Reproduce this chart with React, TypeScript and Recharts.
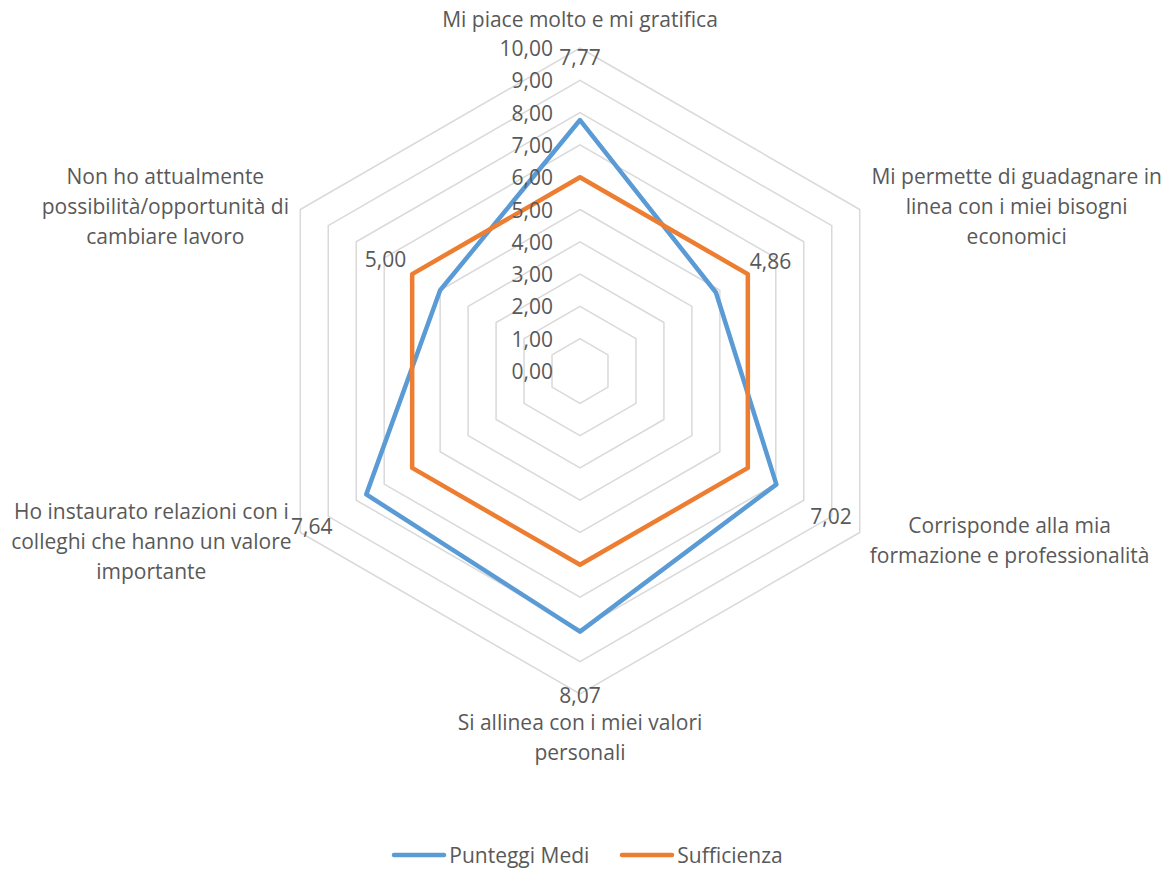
import React from 'react';
import { RadarChart, Radar, PolarGrid, PolarAngleAxis, PolarRadiusAxis, Legend, LabelList } from 'recharts';

const categories = [
  'Mi piace molto e mi gratifica',
  'Mi permette di guadagnare in\nlinea con i miei bisogni\neconomici',
  'Corrisponde alla mia\nformazione e professionalità',
  'Si allinea con i miei valori\npersonali',
  'Ho instaurato relazioni con i\ncolleghi che hanno un valore\nimportante',
  'Non ho attualmente\npossibilità/opportunità di\ncambiare lavoro',
];
const punteggiMedi = [7.77, 4.86, 7.02, 8.07, 7.64, 5.0];
const sufficienza = [6, 6, 6, 6, 6, 6];
const radiusTicks = [0, 1, 2, 3, 4, 5, 6, 7, 8, 9, 10];

const data = categories.map((name, i) => ({
  name,
  media: punteggiMedi[i],
  sufficienza: sufficienza[i],
}));

const W = 1174;
const H = 871;
const CX = 580;
const CY = 371;
const R = 323;
const FONT = "'Open Sans', Lato, sans-serif";
const FS = 21;
const TEXT = '#595959';
const BLUE = '#5B9BD5';
const ORANGE = '#ED7D31';

const fmt = (v: number) => v.toFixed(2).replace('.', ',');

// where each category block sits relative to its angle-axis tick
const catOffsets = [
  { dx: 0, dy: -21 },
  { dx: 150, dy: 0 },
  { dx: 143, dy: 3 },
  { dx: 0, dy: 35 },
  { dx: -142, dy: 4 },
  { dx: -128, dy: 0 },
];

const CategoryTick = (props: any) => {
  const { x, y, payload, index } = props;
  const lines = String(payload.value).split('\n');
  const off = catOffsets[index] || { dx: 0, dy: 0 };
  const cx = x + off.dx;
  const cy = y + off.dy;
  return (
    <g>
      {lines.map((line, i) => (
        <text
          key={i}
          x={cx}
          y={cy + (i - (lines.length - 1) / 2) * 30}
          textAnchor="middle"
          dominantBaseline="central"
          fill={TEXT}
          fontSize={FS}
          fontFamily={FONT}
        >
          {line}
        </text>
      ))}
    </g>
  );
};

const RadiusTick = (props: any) => {
  const { x, y, payload } = props;
  return (
    <text x={x - 27} y={y} textAnchor="end" dominantBaseline="central" fill={TEXT} fontSize={FS} fontFamily={FONT}>
      {fmt(Number(payload.value))}
    </text>
  );
};

// value labels pushed outward from each point
const ValueLabel = (props: any) => {
  const { x, y, value } = props;
  const dx = x - CX;
  const dy = y - CY;
  const d = Math.hypot(dx, dy) || 1;
  return (
    <text
      x={x + (dx / d) * 63}
      y={y + (dy / d) * 63}
      textAnchor="middle"
      dominantBaseline="central"
      fill={TEXT}
      fontSize={FS}
      fontFamily={FONT}
    >
      {fmt(Number(value))}
    </text>
  );
};

const renderLegend = (props: any) => {
  const { payload } = props;
  return (
    <div
      style={{
        display: 'flex',
        justifyContent: 'center',
        gap: 30,
        fontFamily: FONT,
        fontSize: FS,
        color: TEXT,
      }}
    >
      {payload.map((entry: any) => (
        <div key={entry.value} style={{ display: 'flex', alignItems: 'center' }}>
          <svg width={56} height={8}>
            <line x1={3} y1={4} x2={53} y2={4} stroke={entry.color} strokeWidth={4.5} strokeLinecap="round" />
          </svg>
          <span style={{ marginLeft: 2 }}>{entry.value}</span>
        </div>
      ))}
    </div>
  );
};

export default function App() {
  return (
    <div style={{ position: 'absolute', left: 0, top: 0, width: W, height: H, background: '#fff' }}>
      <RadarChart
        width={W}
        height={H}
        data={data}
        cx={CX}
        cy={CY}
        outerRadius={R}
        startAngle={90}
        endAngle={-270}
        margin={{ top: 0, right: 0, bottom: 0, left: 0 }}
      >
        <PolarGrid gridType="polygon" radialLines={false} stroke="#D9D9D9" strokeWidth={1.5} />
        <PolarAngleAxis dataKey="name" tick={<CategoryTick />} tickLine={false} axisLine={false} tickSize={8} />
        <PolarRadiusAxis
          angle={90}
          domain={[0, 10]}
          ticks={radiusTicks}
          tickCount={11}
          axisLine={false}
          tickLine={false}
          tick={<RadiusTick />}
        />
        <Radar
          name="Punteggi Medi"
          dataKey="media"
          stroke={BLUE}
          strokeWidth={4.5}
          strokeLinejoin="round"
          fill="none"
          fillOpacity={0}
          dot={false}
          isAnimationActive={false}
        >
          <LabelList dataKey="media" content={<ValueLabel />} />
        </Radar>
        <Radar
          name="Sufficienza"
          dataKey="sufficienza"
          stroke={ORANGE}
          strokeWidth={4.5}
          strokeLinejoin="round"
          fill="none"
          fillOpacity={0}
          dot={false}
          isAnimationActive={false}
        />
        <Legend
          verticalAlign="bottom"
          content={renderLegend}
          wrapperStyle={{ top: 841, left: 0, width: W, bottom: 'auto' }}
        />
      </RadarChart>
    </div>
  );
}
